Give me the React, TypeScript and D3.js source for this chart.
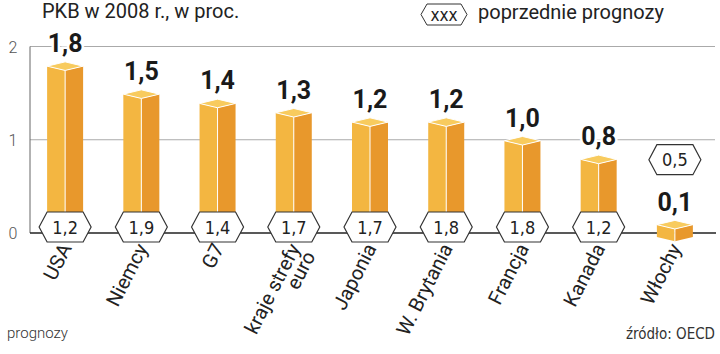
import React from "react";
import * as d3 from "d3";

// PKB forecasts for 2008 (OECD)
const countries = ["USA", "Niemcy", "G7", "kraje strefy|euro", "Japonia", "W. Brytania", "Francja", "Kanada", "Włochy"];
const forecast2008 = [1.8, 1.5, 1.4, 1.3, 1.2, 1.2, 1.0, 0.8, 0.1];
const previousForecast = [1.2, 1.9, 1.4, 1.7, 1.7, 1.8, 1.8, 1.2, 0.5];
const yTicks = [0, 1, 2];

const fmt = (v: number) => v.toFixed(1).replace(".", ",");

const width = 720;
const height = 354;

const LIGHT = "#F3B641";
const DARK = "#E8982C";
const TOP = "#F8CB5E";

const narrow = "'Liberation Sans Narrow', 'DejaVu Sans Condensed', Roboto, sans-serif";

function hexPath(cx: number, cy: number, w: number, h: number, tip: number) {
  const hw = w / 2, hh = h / 2;
  return `M${cx - hw},${cy} L${cx - hw + tip},${cy - hh} L${cx + hw - tip},${cy - hh} L${cx + hw},${cy} L${cx + hw - tip},${cy + hh} L${cx - hw + tip},${cy + hh} Z`;
}

export default function App() {
  const x = d3.scaleBand<string>().domain(countries).range([27, 713]);
  const y = d3.scaleLinear().domain([0, 2]).range([233, 46.5]);
  const y0 = y(0);
  const bw = 36, hw = bw / 2, dh = 4.3;

  return (
    <svg width={width} height={height} style={{ display: "block", position: "absolute", left: 0, top: 0 }}>
      <rect width={width} height={height} fill="#fff" />

      {/* title + legend */}
      <text x={42} y={18} fontFamily="Roboto, sans-serif" fontSize={20} fill="#222">PKB w 2008 r., w proc.</text>
      <path d={hexPath(444, 14.5, 46, 21, 6)} fill="#fff" stroke="#333" strokeWidth={1} />
      <text x={444} y={20.5} textAnchor="middle" fontFamily={narrow} fontSize={17} fill="#222">xxx</text>
      <text x={478} y={19} fontFamily="Roboto, sans-serif" fontSize={20} fill="#222">poprzednie prognozy</text>

      {/* grid + axis */}
      {yTicks.filter((t) => t > 0).map((t) => (
        <line key={t} x1={30} x2={715} y1={y(t)} y2={y(t)} stroke="#aaa" strokeWidth={1} />
      ))}
      <line x1={30} x2={30} y1={y(2)} y2={y0} stroke="#666" strokeWidth={1} />
      {yTicks.map((t) => (
        <text key={t} x={13} y={y(t) + 6} textAnchor="middle" fontFamily="Roboto, sans-serif" fontWeight={300} fontSize={16} fill="#555">{t}</text>
      ))}
      <line x1={30} x2={716} y1={y0} y2={y0} stroke="#222" strokeWidth={1.5} />

      {countries.map((c, i) => {
        const cx = x(c)! + x.bandwidth() / 2;
        const yv = y(forecast2008[i]) + 1;
        const yb = y0 + 4;
        const small = forecast2008[i] < 0.3;
        const hexY = small ? y(forecast2008[i]) - 64 : y0 - 6;
        const lines = c.split("|");
        return (
          <g key={c}>
            <path d={`M${cx - hw},${yv} L${cx},${yv + dh} L${cx},${yb + dh} L${cx - hw},${yb} Z`} fill={LIGHT} />
            <path d={`M${cx},${yv + dh} L${cx + hw},${yv} L${cx + hw},${yb} L${cx},${yb + dh} Z`} fill={DARK} />
            <line x1={cx} x2={cx} y1={yv + dh} y2={yb + dh} stroke="#fff" strokeWidth={1} />
            <path d={`M${cx - hw},${yv} L${cx},${yv - dh} L${cx + hw},${yv} L${cx},${yv + dh} Z`} fill={TOP} stroke="#fff" strokeWidth={1} strokeLinejoin="round" />
            <text x={cx} y={yv - 14} textAnchor="middle" fontFamily="Roboto, sans-serif" fontWeight={700} fontSize={25} fill="#1a1a1a"
              stroke="#fff" strokeWidth={5} paintOrder="stroke">{fmt(forecast2008[i])}</text>

            <path d={hexPath(cx, hexY, 52, 30, 8)} fill="#fff" stroke="#333" strokeWidth={1.2} />
            <text x={cx} y={hexY + 6.5} textAnchor="middle" fontFamily={narrow} fontSize={18} fill="#222">{fmt(previousForecast[i])}</text>

            <text transform={`translate(${cx + 7},${248}) rotate(-63)`} textAnchor="end" fontFamily="Roboto, sans-serif" fontSize={20} fill="#222">
              {lines.map((l, j) => (
                <tspan key={j} x={0} dy={j === 0 ? 0 : 17}>{l}</tspan>
              ))}
            </text>
          </g>
        );
      })}

      <text x={7} y={338} fontFamily="Roboto, sans-serif" fontWeight={300} fontSize={15} fill="#333">prognozy</text>
      <text x={715} y={339} textAnchor="end" fontFamily={narrow} fontSize={15} fill="#333">źródło: OECD</text>
    </svg>
  );
}
